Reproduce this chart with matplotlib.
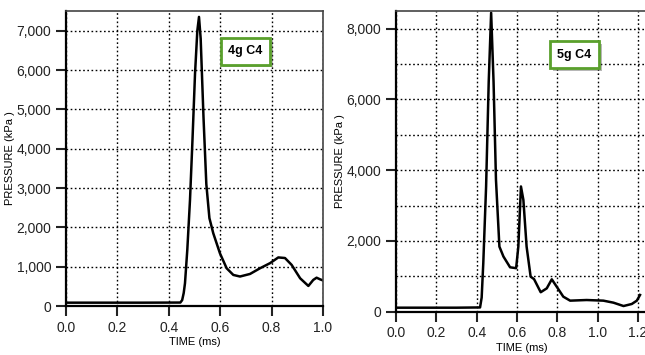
import numpy as np
import matplotlib.pyplot as plt
import matplotlib.patheffects as pe
from matplotlib.ticker import MultipleLocator, FuncFormatter

plt.rcParams['font.family'] = ['Liberation Sans', 'DejaVu Sans']

# 4g C4 trace
t4 = [0.0, 0.30, 0.445, 0.452, 0.458, 0.463, 0.472, 0.4825, 0.492, 0.502, 0.511,
      0.5175, 0.524, 0.535, 0.546, 0.558, 0.573, 0.599, 0.625, 0.651, 0.677,
      0.716, 0.755, 0.794, 0.826, 0.852, 0.878, 0.911, 0.943, 0.962, 0.975,
      0.988, 1.0]
p4 = [85, 85, 88, 150, 330, 580, 1430, 2700, 4200, 5900, 7000,
      7350, 6800, 4800, 3100, 2235, 1850, 1340, 960, 790, 750,
      815, 960, 1090, 1235, 1220, 1045, 705, 510, 663, 720,
      680, 650]

# 5g C4 trace
t5 = [0.0, 0.30, 0.417, 0.425, 0.433, 0.447, 0.460, 0.472, 0.484, 0.496, 0.513,
      0.533, 0.566, 0.596, 0.607, 0.620, 0.632, 0.648, 0.668, 0.685, 0.718,
      0.748, 0.773, 0.797, 0.830, 0.864, 0.946, 1.029, 1.079, 1.129, 1.170,
      1.195, 1.211]
p5 = [113, 113, 120, 400, 1370, 3540, 6500, 8450, 6500, 3730, 1840,
      1560, 1255, 1230, 1840, 3540, 3160, 1840, 990, 920, 550,
      660, 915, 710, 425, 312, 330, 312, 255, 160, 218,
      312, 473]

labels = ['4g C4', '5g C4']

fig = plt.figure(figsize=(6.45, 3.55), dpi=100)
ax1 = fig.add_axes([0.1023, 0.138, 0.3985, 0.831])
ax2 = fig.add_axes([0.614, 0.122, 0.3905, 0.847])

thousands = FuncFormatter(lambda v, pos: f'{int(v):,}')


def style(ax, ymax, ymajor, t, p, label, box_xy):
    ax.plot(t, p, color='black', lw=1.8)
    ax.set_ylim(0, ymax)
    ax.yaxis.set_major_locator(MultipleLocator(ymajor))
    ax.yaxis.set_minor_locator(MultipleLocator(1000))
    ax.xaxis.set_major_locator(MultipleLocator(0.2))
    ax.yaxis.set_major_formatter(thousands)
    ax.xaxis.set_major_formatter(FuncFormatter(lambda v, pos: f'{v:.1f}'))
    ax.grid(True, which='both', color='black', linestyle=(0, (1.2, 1.8)), lw=1.0)
    ax.tick_params(direction='out', length=7, width=1.5, labelsize=10,
                   colors='#222222')
    ax.tick_params(which='minor', length=0)
    for s in ['left', 'bottom']:
        ax.spines[s].set_linewidth(1.6)
        ax.spines[s].set_color('black')
    for s in ['top', 'right']:
        ax.spines[s].set_linewidth(1.2)
        ax.spines[s].set_color('#444444')
    ax.set_xlabel('TIME (ms)', fontsize=8, labelpad=2)
    ax.set_ylabel('PRESSURE (kPa )', fontsize=8, labelpad=1)
    txt = ax.text(box_xy[0], box_xy[1], label, transform=ax.transAxes,
                  fontsize=9, fontweight='bold', ha='center', va='center',
                  bbox=dict(boxstyle='square,pad=0.6', fc='white',
                            ec='#5aa02c', lw=2))
    txt.get_bbox_patch().set_path_effects(
        [pe.SimplePatchShadow(offset=(2, -2), alpha=0.4), pe.Normal()])


ax1.set_xlim(0, 1.0)
style(ax1, 7500, 1000, t4, p4, labels[0], (0.698, 0.864))
ax2.set_xlim(0, 1.25)
style(ax2, 8500, 2000, t5, p5, labels[1], (0.709, 0.854))

fig.savefig('out.png', dpi=100)
